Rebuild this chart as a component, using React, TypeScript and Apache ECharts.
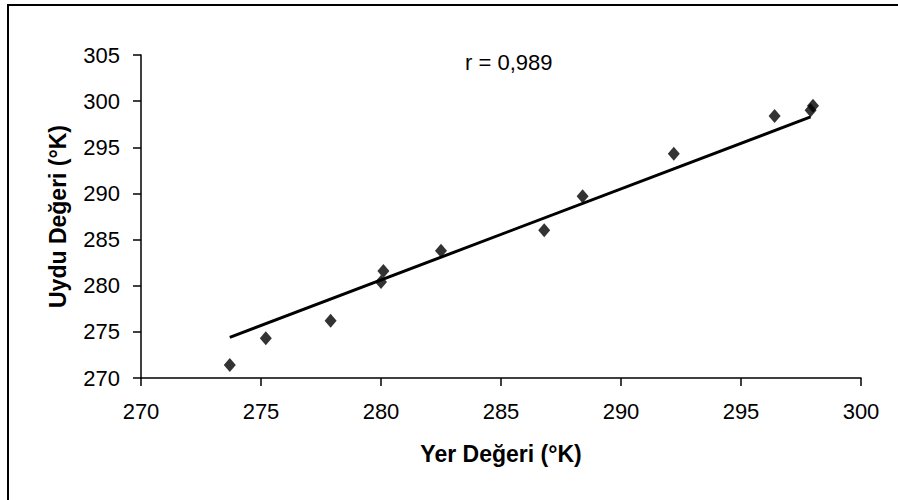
import React, { useEffect, useRef } from "react";
import * as echarts from "echarts";

const groundValues = [273.7, 275.2, 277.9, 280.1, 280.0, 282.5, 286.8, 288.4, 292.2, 296.4, 297.9, 298.0];
const satelliteValues = [271.4, 274.3, 276.2, 281.6, 280.4, 283.8, 286.0, 289.7, 294.3, 298.4, 299.0, 299.5];
const trendX = [273.7, 297.9];
const trendY = [274.4, 298.3];
const xTitle = "Yer Değeri (°K)";
const yTitle = "Uydu Değeri (°K)";
const rLabel = "r = 0,989";

const FONT = '"Liberation Sans", Arial, sans-serif';

export default function App() {
  const ref = useRef<HTMLDivElement>(null);
  useEffect(() => {
    document.body.style.margin = "0";
    const chart = echarts.init(ref.current!, null, { renderer: "svg" });
    const points = groundValues.map((x, i) => [x, satelliteValues[i]]);
    const trend = trendX.map((x, i) => [x, trendY[i]]);
    chart.setOption({
      animation: false,
      backgroundColor: "#ffffff",
      grid: { left: 141, right: 37, top: 55, bottom: 122 },
      xAxis: {
        type: "value",
        min: 270,
        max: 300,
        interval: 5,
        name: xTitle,
        nameLocation: "middle",
        nameGap: 64,
        nameTextStyle: { fontFamily: FONT, fontSize: 23, fontWeight: "bold", color: "#000" },
        axisLine: { show: true, onZero: false, lineStyle: { color: "#000", width: 1.5 } },
        axisTick: { show: true, inside: false, length: 8, lineStyle: { color: "#000", width: 1.5 } },
        axisLabel: { margin: 22, fontFamily: FONT, fontSize: 22, color: "#000" },
        splitLine: { show: false },
      },
      yAxis: {
        type: "value",
        min: 270,
        max: 305,
        interval: 5,
        name: yTitle,
        nameLocation: "middle",
        nameGap: 72,
        nameRotate: 90,
        nameTextStyle: { fontFamily: FONT, fontSize: 23, fontWeight: "bold", color: "#000" },
        axisLine: { show: true, onZero: false, lineStyle: { color: "#000", width: 1.5 } },
        axisTick: { show: true, inside: false, length: 8, lineStyle: { color: "#000", width: 1.5 } },
        axisLabel: { margin: 21, fontFamily: FONT, fontSize: 22, color: "#000" },
        splitLine: { show: false },
      },
      series: [
        {
          type: "line",
          data: trend,
          symbol: "none",
          lineStyle: { color: "#000", width: 3 },
          z: 2,
        },
        {
          type: "scatter",
          data: points,
          symbol: "diamond",
          symbolSize: [12, 14],
          itemStyle: { color: "#000" },
          z: 3,
        },
      ],
      graphic: [
        {
          type: "text",
          left: 465,
          top: 51,
          style: { text: rLabel, font: `22px ${FONT}`, fill: "#000" },
        },
        {
          type: "line",
          shape: { x1: 7, y1: 5, x2: 898, y2: 5 },
          style: { stroke: "#000", lineWidth: 2 },
        },
        {
          type: "line",
          shape: { x1: 8, y1: 5, x2: 8, y2: 500 },
          style: { stroke: "#000", lineWidth: 2 },
        },
      ],
    });
    return () => chart.dispose();
  }, []);
  return <div ref={ref} style={{ width: 898, height: 500 }} />;
}
